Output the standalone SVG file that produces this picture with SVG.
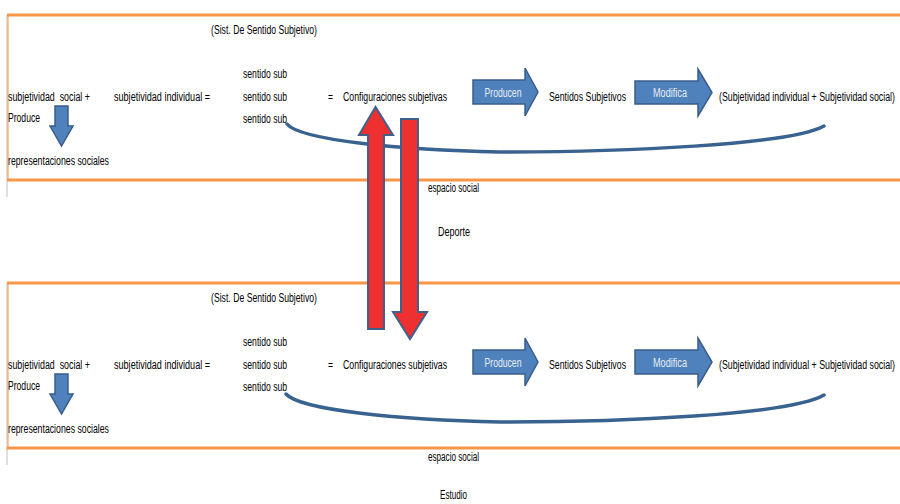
<svg xmlns="http://www.w3.org/2000/svg" width="900" height="504" viewBox="0 0 900 504">
  <style>
    text { font-family: "Liberation Sans", Arial, sans-serif; font-size: 12.5px; fill: #000; }
    .inv { fill: #e8eef6; text-anchor: middle; }
    .rule { stroke: #f79646; stroke-width: 3; fill: none; }
    .edge { stroke: #d4d4d4; stroke-width: 1.5; fill: none; }
    .blue { fill: #4f81bd; stroke: #385d8a; stroke-width: 1.5; stroke-linejoin: miter; }
    .red { fill: #ee3030; stroke: #3e618c; stroke-width: 2; stroke-linejoin: miter; }
    .loop { fill: none; stroke: #38628f; stroke-width: 3.5; stroke-linecap: round; }
  </style>
  <defs>
    <!-- frame of one panel: top/bottom rules and left edge -->
    <g id="frame">
      <line class="edge" x1="7" y1="15" x2="7" y2="197"/>
      <line class="rule" x1="7" y1="15" x2="900" y2="15"/>
      <line class="rule" x1="7" y1="180" x2="900" y2="180"/>
      <line stroke="#f79646" stroke-width="1" x1="8" y1="15" x2="8" y2="180"/>
    </g>
  </defs>

  <!-- upper panel (all labels use a condensed horizontal scale) -->
  <g id="panel-deporte">
    <use href="#frame"/>
    <g id="top-sistema"><text transform="translate(211,34) scale(0.66,1)" textLength="160.6" lengthAdjust="spacingAndGlyphs">(Sist. De Sentido Subjetivo)</text></g>
    <g id="top-subj-social"><text transform="translate(8,101) scale(0.66,1)" textLength="124.2" lengthAdjust="spacingAndGlyphs" xml:space="preserve">subjetividad  social +</text></g>
    <g id="top-produce"><text transform="translate(8,122) scale(0.66,1)" textLength="48.5" lengthAdjust="spacingAndGlyphs">Produce</text></g>
    <g id="top-produce-arrow"><path class="blue" d="M55,106 H68 V126 H73 L61.5,146 L50,126 H55 Z"/></g>
    <g id="top-representaciones"><text transform="translate(8,165) scale(0.66,1)" textLength="153" lengthAdjust="spacingAndGlyphs">representaciones sociales</text></g>
    <g id="top-subj-individual"><text transform="translate(114,101) scale(0.66,1)" textLength="145.5" lengthAdjust="spacingAndGlyphs">subjetividad individual =</text></g>
    <g id="top-sentidos">
      <text transform="translate(243,78) scale(0.66,1)" textLength="66.7" lengthAdjust="spacingAndGlyphs">sentido sub</text>
      <text transform="translate(243,101) scale(0.66,1)" textLength="66.7" lengthAdjust="spacingAndGlyphs">sentido sub</text>
      <text transform="translate(243,123) scale(0.66,1)" textLength="66.7" lengthAdjust="spacingAndGlyphs">sentido sub</text>
    </g>
    <g id="top-configuraciones">
      <text transform="translate(328,101) scale(0.66,1)" textLength="7.6" lengthAdjust="spacingAndGlyphs">=</text>
      <text transform="translate(343,101) scale(0.66,1)" textLength="157.6" lengthAdjust="spacingAndGlyphs">Configuraciones subjetivas</text>
    </g>
    <g id="top-producen">
      <path class="blue" d="M473,80 H525 V68 L538,92 L525,116 V104 H473 Z"/>
      <text class="inv" transform="translate(503,97) scale(0.66,1)" textLength="56" lengthAdjust="spacingAndGlyphs">Producen</text>
    </g>
    <g id="top-sentidos-subjetivos"><text transform="translate(549,101) scale(0.66,1)" textLength="116.7" lengthAdjust="spacingAndGlyphs">Sentidos Subjetivos</text></g>
    <g id="top-modifica">
      <path class="blue" d="M635,81 H698 V69 L712,92.5 L698,116 V104 H635 Z"/>
      <text class="inv" transform="translate(670,97) scale(0.66,1)" textLength="51.5" lengthAdjust="spacingAndGlyphs">Modifica</text>
    </g>
    <g id="top-resultado"><text transform="translate(719,101) scale(0.66,1)" textLength="266.7" lengthAdjust="spacingAndGlyphs">(Subjetividad individual + Subjetividad social)</text></g>
    <g id="top-loop-connector"><path class="loop" d="M287,124 C300,140 400,150 500,152 C620,152 790,145 824,126"/></g>
    <g id="top-espacio"><text transform="translate(428,192) scale(0.66,1)" textLength="77.3" lengthAdjust="spacingAndGlyphs">espacio social</text></g>
    <g id="label-deporte"><text transform="translate(438,236) scale(0.66,1)" textLength="48.5" lengthAdjust="spacingAndGlyphs">Deporte</text></g>
  </g>

  <!-- lower panel: same layout shifted down -->
  <g id="panel-estudio" transform="translate(0,268)">
    <use href="#frame"/>
    <g id="bot-sistema"><text transform="translate(211,34) scale(0.66,1)" textLength="160.6" lengthAdjust="spacingAndGlyphs">(Sist. De Sentido Subjetivo)</text></g>
    <g id="bot-subj-social"><text transform="translate(8,101) scale(0.66,1)" textLength="124.2" lengthAdjust="spacingAndGlyphs" xml:space="preserve">subjetividad  social +</text></g>
    <g id="bot-produce"><text transform="translate(8,122) scale(0.66,1)" textLength="48.5" lengthAdjust="spacingAndGlyphs">Produce</text></g>
    <g id="bot-produce-arrow"><path class="blue" d="M55,106 H68 V126 H73 L61.5,146 L50,126 H55 Z"/></g>
    <g id="bot-representaciones"><text transform="translate(8,165) scale(0.66,1)" textLength="153" lengthAdjust="spacingAndGlyphs">representaciones sociales</text></g>
    <g id="bot-subj-individual"><text transform="translate(114,101) scale(0.66,1)" textLength="145.5" lengthAdjust="spacingAndGlyphs">subjetividad individual =</text></g>
    <g id="bot-sentidos">
      <text transform="translate(243,78) scale(0.66,1)" textLength="66.7" lengthAdjust="spacingAndGlyphs">sentido sub</text>
      <text transform="translate(243,101) scale(0.66,1)" textLength="66.7" lengthAdjust="spacingAndGlyphs">sentido sub</text>
      <text transform="translate(243,123) scale(0.66,1)" textLength="66.7" lengthAdjust="spacingAndGlyphs">sentido sub</text>
    </g>
    <g id="bot-configuraciones">
      <text transform="translate(328,101) scale(0.66,1)" textLength="7.6" lengthAdjust="spacingAndGlyphs">=</text>
      <text transform="translate(343,101) scale(0.66,1)" textLength="157.6" lengthAdjust="spacingAndGlyphs">Configuraciones subjetivas</text>
    </g>
    <g id="bot-producen">
      <path class="blue" d="M473,82 H525 V70 L538,94 L525,118 V106 H473 Z"/>
      <text class="inv" transform="translate(503,99) scale(0.66,1)" textLength="56" lengthAdjust="spacingAndGlyphs">Producen</text>
    </g>
    <g id="bot-sentidos-subjetivos"><text transform="translate(549,101) scale(0.66,1)" textLength="116.7" lengthAdjust="spacingAndGlyphs">Sentidos Subjetivos</text></g>
    <g id="bot-modifica">
      <path class="blue" d="M635,82 H698 V70 L712,94 L698,118 V106 H635 Z"/>
      <text class="inv" transform="translate(670,99) scale(0.66,1)" textLength="51.5" lengthAdjust="spacingAndGlyphs">Modifica</text>
    </g>
    <g id="bot-resultado"><text transform="translate(719,101) scale(0.66,1)" textLength="266.7" lengthAdjust="spacingAndGlyphs">(Subjetividad individual + Subjetividad social)</text></g>
    <g id="bot-loop-connector"><path class="loop" d="M286,126 C300,142 400,152 500,154 C620,154 790,147 824,127"/></g>
    <g id="bot-espacio"><text transform="translate(428,193) scale(0.66,1)" textLength="77.3" lengthAdjust="spacingAndGlyphs">espacio social</text></g>
    <g id="label-estudio"><text transform="translate(440,231) scale(0.66,1)" textLength="40.9" lengthAdjust="spacingAndGlyphs">Estudio</text></g>
  </g>

  <!-- connectors between the two panels -->
  <g id="connectors">
    <path class="red" d="M368,329 V135 H359 L375.5,107 L393,135 H384 V329 Z"/>
    <path class="red" d="M401,119 H418 V312 H427 L410,339 L393,312 H401 Z"/>
  </g>
</svg>
